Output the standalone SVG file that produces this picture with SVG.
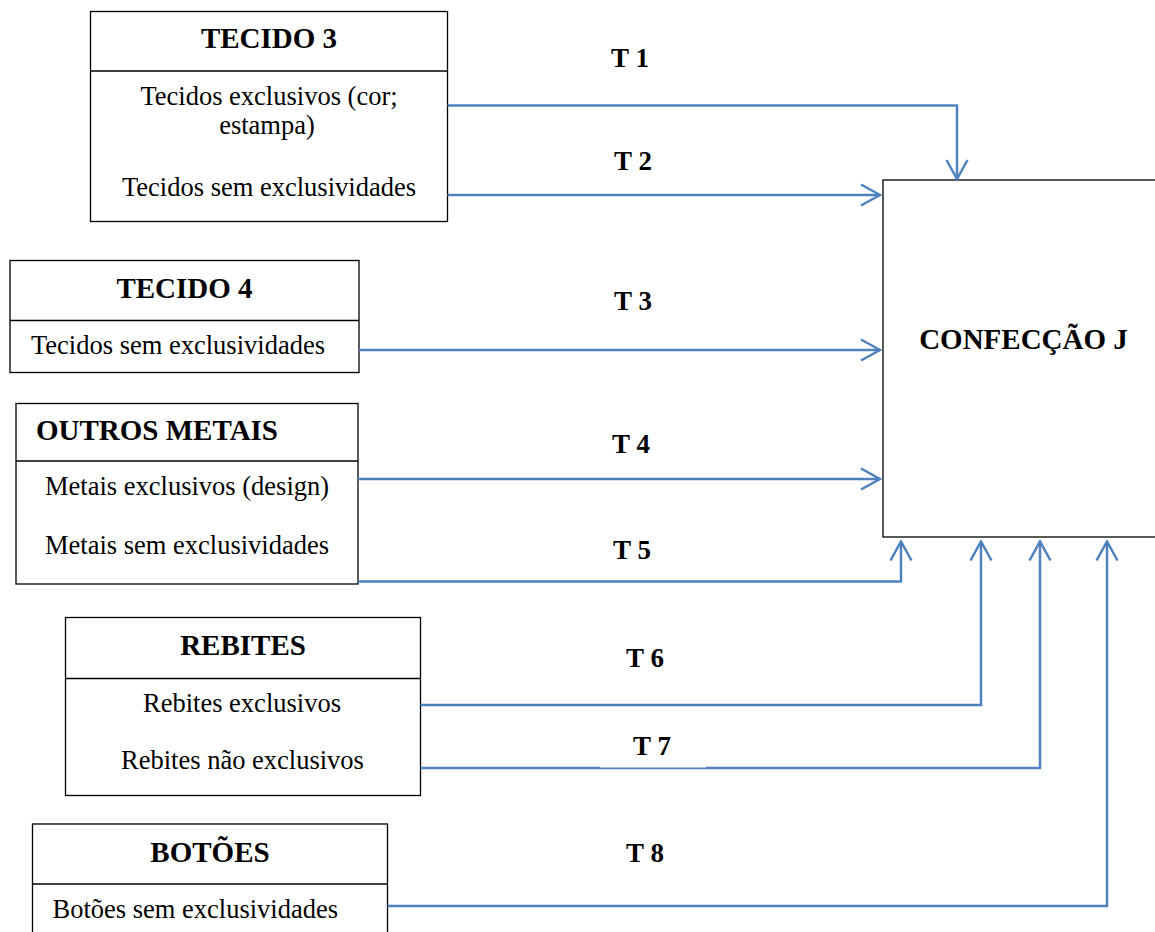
<svg xmlns="http://www.w3.org/2000/svg" width="1155" height="932" viewBox="0 0 1155 932">
  <style>
    .box { fill: #fff; stroke: #000; stroke-width: 1.3; }
    .div { stroke: #000; stroke-width: 1.3; }
    .title { font-family: "Liberation Serif", "Times New Roman", serif; font-weight: bold; font-size: 29px; fill: #000; }
    .item { font-family: "Liberation Serif", "Times New Roman", serif; font-size: 26.5px; fill: #000; }
    .tl { font-family: "Liberation Serif", "Times New Roman", serif; font-weight: bold; font-size: 27px; fill: #000; text-anchor: middle; }
    .mid { text-anchor: middle; }
    .link { fill: none; stroke: #4F81BD; stroke-width: 2.5; marker-end: url(#arrow); }
  </style>
  <defs>
    <marker id="arrow" markerUnits="userSpaceOnUse" viewBox="-22 -12 24 24" refX="0" refY="0" markerWidth="24" markerHeight="24" orient="auto">
      <path d="M-19,-10.5 L0,0 L-19,10.5" fill="none" stroke="#4F81BD" stroke-width="2.5"/>
    </marker>
  </defs>
  <rect width="1155" height="932" fill="#fff"/>

  <!-- Central node -->
  <g id="confeccao-j">
    <rect class="box" x="883" y="180" width="280" height="357"/>
    <text class="title mid" x="1023.5" y="349">CONFECÇÃO J</text>
  </g>

  <!-- Supplier nodes -->
  <g id="tecido-3">
    <rect class="box" x="90.5" y="11.5" width="357" height="210"/>
    <line class="div" x1="90.5" y1="71" x2="447.5" y2="71"/>
    <text class="title mid" x="269" y="48">TECIDO 3</text>
    <text class="item mid" x="269" y="105">Tecidos exclusivos (cor;</text>
    <text class="item mid" x="267" y="134">estampa)</text>
    <text class="item mid" x="269" y="196">Tecidos sem exclusividades</text>
  </g>

  <g id="tecido-4">
    <rect class="box" x="10" y="260.5" width="349" height="112"/>
    <line class="div" x1="10" y1="320.5" x2="359" y2="320.5"/>
    <text class="title mid" x="184.5" y="298">TECIDO 4</text>
    <text class="item" x="31" y="354">Tecidos sem exclusividades</text>
  </g>

  <g id="outros-metais">
    <rect class="box" x="16" y="403.5" width="342" height="180.5"/>
    <line class="div" x1="16" y1="461" x2="358" y2="461"/>
    <text class="title" x="36" y="440">OUTROS METAIS</text>
    <text class="item" x="45" y="495">Metais exclusivos (design)</text>
    <text class="item" x="45" y="554">Metais sem exclusividades</text>
  </g>

  <g id="rebites">
    <rect class="box" x="65.5" y="617.5" width="355" height="178"/>
    <line class="div" x1="65.5" y1="678.5" x2="420.5" y2="678.5"/>
    <text class="title mid" x="243" y="655">REBITES</text>
    <text class="item mid" x="242" y="712">Rebites exclusivos</text>
    <text class="item mid" x="242.5" y="769">Rebites não exclusivos</text>
  </g>

  <g id="botoes">
    <rect class="box" x="32.5" y="824" width="355" height="120"/>
    <line class="div" x1="32.5" y1="884" x2="387.5" y2="884"/>
    <text class="title mid" x="210" y="862">BOTÕES</text>
    <text class="item" x="52.5" y="918">Botões sem exclusividades</text>
  </g>

  <!-- Connectors -->
  <g id="connectors">
    <path class="link" d="M447.5,105.5 H957 V179"/>
    <path class="link" d="M447.5,195 H880"/>
    <path class="link" d="M359,350 H880"/>
    <path class="link" d="M358,479 H880"/>
    <path class="link" d="M358,581.5 H901 V541.5"/>
    <path class="link" d="M420.5,705 H981 V541.5"/>
    <path class="link" d="M420.5,768 H1040 V541.5"/>
    <path class="link" d="M387.5,906 H1107 V541.5"/>
    <rect x="600" y="765.5" width="106" height="2" fill="#fff"/>
  </g>

  <!-- Connector labels -->
  <g id="labels">
    <text class="tl" x="630" y="67">T 1</text>
    <text class="tl" x="633" y="170">T 2</text>
    <text class="tl" x="633" y="310">T 3</text>
    <text class="tl" x="631" y="453">T 4</text>
    <text class="tl" x="632" y="559">T 5</text>
    <text class="tl" x="645" y="667">T 6</text>
    <text class="tl" x="652" y="755">T 7</text>
    <text class="tl" x="645" y="862">T 8</text>
  </g>
</svg>
